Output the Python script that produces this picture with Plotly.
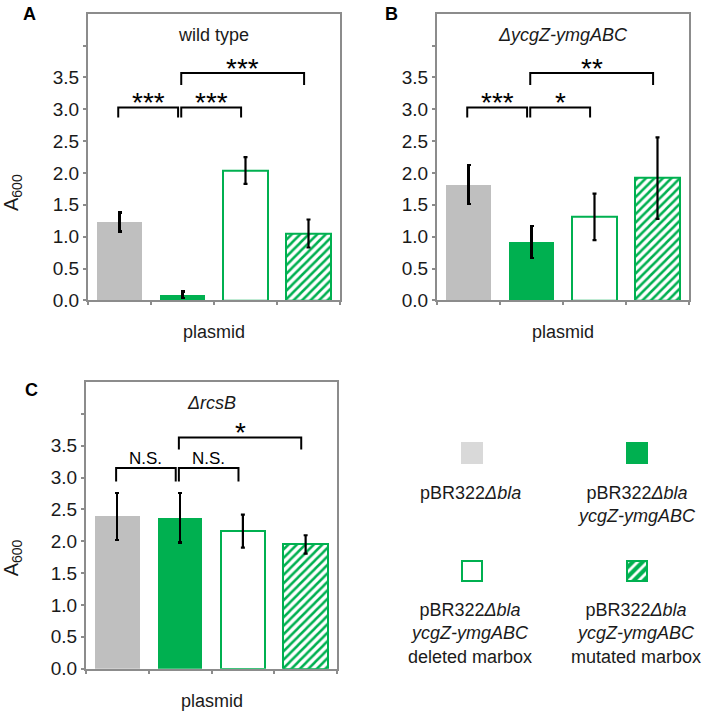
import plotly.graph_objects as go

# ---------------- data ----------------
categories = ["pBR322Δbla", "pBR322Δbla ycgZ-ymgABC",
              "pBR322Δbla ycgZ-ymgABC deleted marbox",
              "pBR322Δbla ycgZ-ymgABC mutated marbox"]

wt_mean = [1.23, 0.09, 2.04, 1.05]
wt_err = [0.15, 0.05, 0.21, 0.22]

dycgz_mean = [1.82, 0.92, 1.31, 1.92]
dycgz_err = [0.31, 0.25, 0.365, 0.64]

drcsb_mean = [2.39, 2.37, 2.16, 1.95]
drcsb_err = [0.37, 0.39, 0.26, 0.145]

panel_titles = ["wild type", "<i>ΔycgZ-ymgABC</i>", "<i>ΔrcsB</i>"]
panel_letters = ["A", "B", "C"]

# brackets: (from bar, to bar, height, leg bottom, label)
brackets_A = [(0, 1, 3.03, 2.87, "***"), (1, 2, 3.03, 2.87, "***"), (1, 3, 3.57, 3.38, "***")]
brackets_B = [(0, 1, 3.03, 2.87, "***"), (1, 2, 3.03, 2.87, "*"), (1, 3, 3.57, 3.38, "**")]
brackets_C = [(0, 1, 3.15, 2.94, "N.S."), (1, 2, 3.15, 2.94, "N.S."), (1, 3, 3.63, 3.44, "*")]

y_tickvals = [0, 0.5, 1.0, 1.5, 2.0, 2.5, 3.0, 3.5]
y_ticktext = ["0.0", "0.5", "1.0", "1.5", "2.0", "2.5", "3.0", "3.5"]
y_minor_ticks = [4.0]

legend_text = ["pBR322<i>Δbla</i>",
               "pBR322<i>Δbla</i><br><i>ycgZ-ymgABC</i>",
               "pBR322<i>Δbla</i><br><i>ycgZ-ymgABC</i><br>deleted marbox",
               "pBR322<i>Δbla</i><br><i>ycgZ-ymgABC</i><br>mutated marbox"]

# ---------------- styles ----------------
W, H = 709, 721
GRAY = "#BFBFBF"
GREEN = "#00B050"
FRAME = "#8C8C8C"
TXT = "#1a1a1a"
FONT = "Arial, Liberation Sans, sans-serif"

fill_colors = [GRAY, GREEN, "white", "white"]
line_colors = [GRAY, GREEN, GREEN, GREEN]
line_widths = [0, 0, 2, 2]
patterns = ["", "", "", "/"]


def px_x(a, b):
    return [a / W, b / W]


def px_y(top, bottom):
    return [(H - bottom) / H, (H - top) / H]


panels = [
    dict(mean=wt_mean, err=wt_err, br=brackets_A, xd=px_x(88, 340), yd=px_y(14, 305)),
    dict(mean=dycgz_mean, err=dycgz_err, br=brackets_B, xd=px_x(437, 689), yd=px_y(14, 305)),
    dict(mean=drcsb_mean, err=drcsb_err, br=brackets_C, xd=px_x(86, 337), yd=px_y(388, 679)),
]

fig = go.Figure()
annotations = []

for k, p in enumerate(panels):
    ax = "" if k == 0 else str(k + 1)
    xa, ya = "x" + ax, "y" + ax
    for i in range(len(categories)):
        marker = dict(color=fill_colors[i], line=dict(color=line_colors[i], width=line_widths[i]))
        if patterns[i]:
            marker["pattern"] = dict(shape=patterns[i], fgcolor=GREEN, bgcolor="white",
                                     fillmode="replace", size=6, solidity=0.42)
        fig.add_trace(go.Bar(
            x=[i], y=[p["mean"][i]], width=0.71, marker=marker,
            error_y=dict(type="data", array=[p["err"][i]], color="black", thickness=2.2, width=2),
            xaxis=xa, yaxis=ya, showlegend=False, hoverinfo="skip"))
    # brackets
    for (i, j, h, hb, lab) in p["br"]:
        xl = i - 0.02
        xr = j - 0.07
        fig.add_trace(go.Scatter(
            x=[xl, xl, xr, xr], y=[hb, h, h, hb], mode="lines",
            line=dict(color="black", width=2), xaxis=xa, yaxis=ya,
            showlegend=False, hoverinfo="skip"))
        is_ns = lab.startswith("N")
        annotations.append(dict(
            x=(xl + xr) / 2, y=h, xref=xa, yref=ya, xanchor="center",
            text=lab, showarrow=False, yanchor="bottom",
            yshift=-2 if is_ns else -13,
            font=dict(family=FONT, size=17 if is_ns else 28, color="black")))
    xkey = "xaxis" + ax
    ykey = "yaxis" + ax
    fig.update_layout(**{
        xkey: dict(domain=p["xd"], anchor=ya, range=[-0.5, 3.5],
                   tickvals=[-0.5, 0.5, 1.5, 2.5, 3.5], showticklabels=False,
                   ticks="outside", ticklen=3, tickcolor=FRAME, tickwidth=1.5,
                   showline=True, linecolor=FRAME, linewidth=2, mirror=True,
                   showgrid=False, zeroline=False, fixedrange=True),
        ykey: dict(domain=p["yd"], anchor=xa, range=[0, 4.5],
                   tickvals=y_tickvals, ticktext=y_ticktext,
                   ticks="outside", ticklen=3, tickcolor=FRAME, tickwidth=1.5,
                   minor=dict(tickvals=y_minor_ticks, ticks="outside", ticklen=3,
                              tickcolor=FRAME, tickwidth=1.5, showgrid=False),
                   tickfont=dict(family=FONT, size=19, color=TXT),
                   showline=True, linecolor=FRAME, linewidth=2, mirror=True,
                   showgrid=False, zeroline=False, fixedrange=True),
    })
    # panel title
    xc = (p["xd"][0] + p["xd"][1]) / 2
    annotations.append(dict(x=xc, y=p["yd"][1], xref="paper", yref="paper",
                            xanchor="center", yanchor="middle", yshift=-21,
                            text=panel_titles[k], showarrow=False,
                            font=dict(family=FONT, size=18, color=TXT)))
    # x axis title
    annotations.append(dict(x=xc, y=p["yd"][0], xref="paper", yref="paper",
                            xanchor="center", yanchor="middle", yshift=-32,
                            text="plasmid", showarrow=False,
                            font=dict(family=FONT, size=18, color=TXT)))

# panel letters
for (lab, x, y) in [("A", 30, 14), ("B", 391, 14), ("C", 31, 396)]:
    annotations.append(dict(x=x / W, y=(H - y) / H, xref="paper", yref="paper",
                            xanchor="center", yanchor="middle",
                            text="<b>" + lab + "</b>", showarrow=False,
                            font=dict(family=FONT, size=18, color="black")))

# y axis titles
for y in [196, 567]:
    annotations.append(dict(x=12 / W, y=(H - y) / H, xref="paper", yref="paper",
                            xanchor="center", yanchor="middle",
                            text="A<sub>600</sub>", textangle=-90, showarrow=False,
                            font=dict(family=FONT, size=20, color=TXT)))

# ---------------- custom legend (hidden axis in pixel units) ----------------
leg_x = [472, 637, 472, 637]
leg_y = [460, 460, 580, 580]
leg_fill = ["#D9D9D9", GREEN, "white", GREEN]
leg_line = ["#D9D9D9", GREEN, GREEN, GREEN]
leg_pat = ["", "", "", "/"]
for i in range(4):
    marker = dict(color=leg_fill[i], line=dict(color=leg_line[i], width=2))
    if leg_pat[i]:
        marker["pattern"] = dict(shape=leg_pat[i], fgcolor="white", bgcolor=GREEN,
                                 fillmode="replace", size=7, solidity=0.4)
    fig.add_trace(go.Bar(
        x=[leg_x[i]], y=[20], base=[leg_y[i] - 10], width=20, marker=marker,
        xaxis="x4", yaxis="y4", showlegend=False, hoverinfo="skip"))
fig.update_layout(
    xaxis4=dict(domain=[380 / W, 1], range=[380, W], visible=False, anchor="y4", fixedrange=True),
    yaxis4=dict(domain=[0, (H - 400) / H], range=[H, 400], visible=False, anchor="x4", fixedrange=True),
)
leg_text_x = [470, 636, 470, 636]
leg_text_y = [488, 488, 607, 607]
for t, x, y in zip(legend_text, leg_text_x, leg_text_y):
    annotations.append(dict(x=x, y=y, xref="x4", yref="y4", text=t, showarrow=False,
                            xanchor="center", yanchor="top", align="center",
                            font=dict(family=FONT, size=18, color=TXT)))

fig.update_layout(width=W, height=H, autosize=False,
                  margin=dict(l=0, r=0, t=0, b=0),
                  paper_bgcolor="white", plot_bgcolor="white",
                  barmode="overlay", bargap=0, annotations=annotations,
                  font=dict(family=FONT))

fig.write_html("out.html", config={"displayModeBar": False},
               post_script="document.body.style.margin='0';document.body.style.overflow='hidden';")
